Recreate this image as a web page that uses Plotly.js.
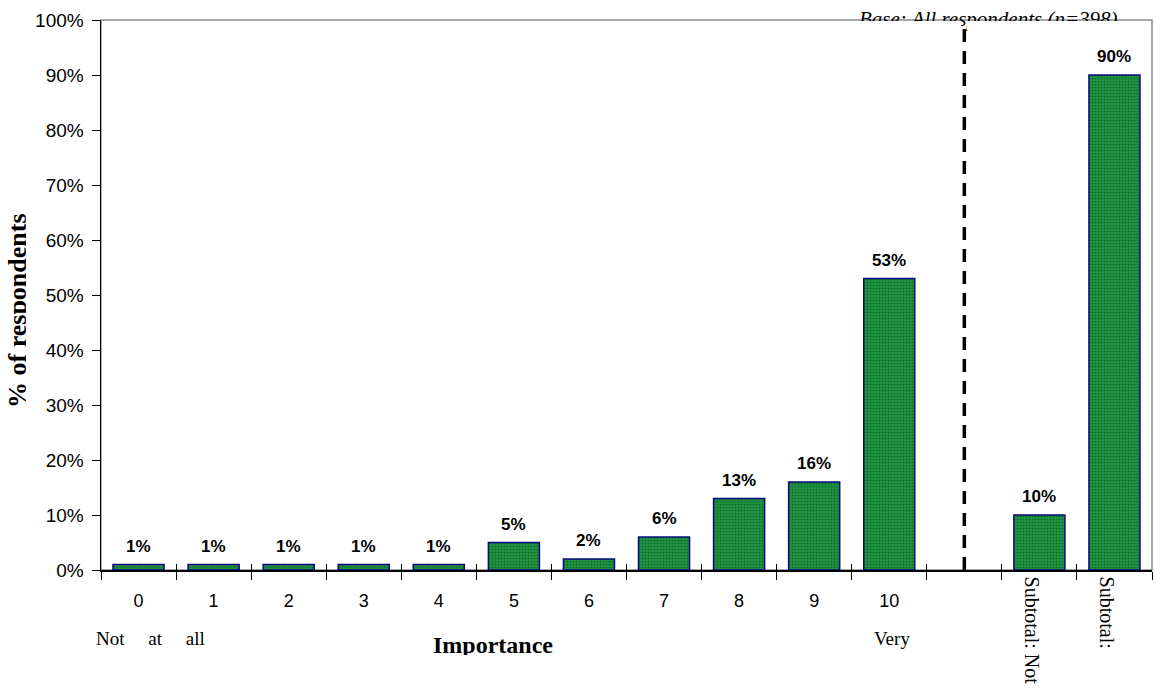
<!DOCTYPE html>
<html>
<head>
<meta charset="utf-8">
<script src="https://cdn.plot.ly/plotly-3.0.1.min.js"></script>
<style>
  html, body { margin: 0; padding: 0; background: #ffffff; }
  #chart { width: 1155px; height: 691px; }
</style>
</head>
<body>
<div id="chart"></div>
<script>
// Importance rating distribution (0-10) plus the two subtotals
const categories = ['0', '1', '2', '3', '4', '5', '6', '7', '8', '9', '10', ' ', 'Subtotal: Not', 'Subtotal:'];
const tickLabels = ['0', '1', '2', '3', '4', '5', '6', '7', '8', '9', '10', '', '', ''];
const shares = [1, 1, 1, 1, 1, 5, 2, 6, 13, 16, 53, null, 10, 90];
const subtotalLabels = ['Subtotal: Not', 'Subtotal:'];
const baseNote = 'Base: All respondents (n=398)';

const serif = 'Liberation Serif, Times New Roman, serif';
const sans = 'Liberation Sans, Arial, sans-serif';

const fractions = shares.map(v => (v === null ? null : v / 100));

const bars = {
  type: 'bar',
  x: categories,
  y: fractions,
  width: 0.68,
  marker: {
    color: '#1f9140',
    line: { color: '#0a0a80', width: 1.5 },
    pattern: { shape: '.', fgcolor: '#0c6a28', bgcolor: '#1f9140', size: 3, solidity: 0.25 }
  },
  hoverinfo: 'skip',
  showlegend: false
};

// invisible companion trace so the overlay axis carries the upward tick marks
const tickOverlay = {
  type: 'bar',
  x: categories,
  y: categories.map(() => null),
  xaxis: 'x2',
  hoverinfo: 'skip',
  showlegend: false
};

// value labels above each bar, taken from the same values
const valueNotes = [];
shares.forEach((v, i) => {
  if (v === null) return;
  valueNotes.push({
    x: categories[i], y: v / 100, xref: 'x', yref: 'y',
    text: '<b>' + v + '%</b>', showarrow: false,
    yanchor: 'bottom', yshift: 7,
    font: { family: sans, size: 17, color: '#000000' }
  });
});

// rotated labels under the subtotal bars
const subtotalNotes = subtotalLabels.map(lbl => ({
  x: lbl, y: 0, xref: 'x', yref: 'paper',
  text: lbl, textangle: 90, showarrow: false,
  xanchor: 'center', yanchor: 'top', xshift: -7, yshift: -5,
  font: { family: serif, size: 20, color: '#000000' }
}));

const whiteBox = (x, y, w, h) => ({
  x: x, y: y, xref: 'paper', yref: 'paper',
  xanchor: 'left', yanchor: 'top',
  text: ' ', showarrow: false, width: w, height: h,
  bgcolor: '#ffffff', borderpad: 0, borderwidth: 0
});

const pxX = px => (px - 101) / 1051;
const pxY = py => (570 - py) / 550;

const annotations = valueNotes.concat(subtotalNotes, [
  {
    x: pxX(988), y: 1, xref: 'paper', yref: 'paper',
    text: '<i>' + baseNote + '</i>', showarrow: false,
    xanchor: 'center', yanchor: 'middle', yshift: 1,
    font: { family: serif, size: 21, color: '#000000' }
  },
  // the note sits behind the plot frame: hide its lower half
  whiteBox(pxX(845), pxY(21), 116, 16),
  whiteBox(pxX(967), pxY(21), 175, 16),
  {
    x: pxX(150), y: pxY(638), xref: 'paper', yref: 'paper',
    text: 'Not\u00a0\u00a0\u00a0\u00a0\u00a0at\u00a0\u00a0\u00a0\u00a0\u00a0all', showarrow: false,
    xanchor: 'center', yanchor: 'middle',
    font: { family: serif, size: 19, color: '#000000' }
  },
  {
    x: '10', y: pxY(638), xref: 'x', yref: 'paper',
    text: 'Very', showarrow: false,
    xanchor: 'center', yanchor: 'middle', xshift: 3,
    font: { family: serif, size: 19, color: '#000000' }
  },
  {
    x: pxX(493), y: pxY(645), xref: 'paper', yref: 'paper',
    text: '<b>Importance</b>', showarrow: false,
    xanchor: 'center', yanchor: 'middle',
    font: { family: serif, size: 24, color: '#000000' }
  },
  whiteBox(pxX(420), pxY(655), 160, 18),
  {
    x: pxX(17), y: pxY(311), xref: 'paper', yref: 'paper',
    text: '<b>% of respondents</b>', textangle: -90, showarrow: false,
    xanchor: 'center', yanchor: 'middle',
    font: { family: serif, size: 26, color: '#000000' }
  },
  whiteBox(pxX(26), pxY(195), 9, 240)
]);

const layout = {
  width: 1155,
  height: 691,
  margin: { l: 101, r: 3, t: 20, b: 121, pad: 0 },
  paper_bgcolor: '#ffffff',
  plot_bgcolor: '#ffffff',
  bargap: 0.32,
  xaxis: {
    type: 'category',
    categoryorder: 'array',
    categoryarray: categories,
    range: [-0.5, categories.length - 0.5],
    tickmode: 'array',
    tickvals: categories,
    ticktext: tickLabels,
    tickson: 'boundaries',
    ticks: 'outside',
    ticklen: 8,
    tickwidth: 1,
    tickcolor: '#000000',
    ticklabelstandoff: 14,
    showline: true,
    linecolor: '#000000',
    linewidth: 1.5,
    showgrid: false,
    zeroline: false,
    fixedrange: true,
    tickfont: { family: sans, size: 18, color: '#000000' }
  },
  xaxis2: {
    type: 'category',
    overlaying: 'x',
    anchor: 'y',
    side: 'bottom',
    categoryorder: 'array',
    categoryarray: categories,
    range: [-0.5, categories.length - 0.5],
    tickson: 'boundaries',
    ticks: 'inside',
    ticklen: 6,
    tickwidth: 1,
    tickcolor: '#000000',
    showticklabels: false,
    showline: false,
    showgrid: false,
    zeroline: false,
    fixedrange: true
  },
  yaxis: {
    range: [0, 1],
    tickmode: 'linear',
    tick0: 0,
    dtick: 0.1,
    tickformat: '.0%',
    ticks: 'outside',
    ticklen: 8,
    tickwidth: 1,
    tickcolor: '#000000',
    ticklabelstandoff: 4,
    showline: true,
    linecolor: '#000000',
    linewidth: 1.5,
    showgrid: false,
    zeroline: false,
    fixedrange: true,
    tickfont: { family: sans, size: 19, color: '#000000' }
  },
  shapes: [
    // grey plot frame (left and bottom edges are covered by the axis lines)
    {
      type: 'rect', xref: 'paper', yref: 'paper',
      x0: 0, x1: 1, y0: 0, y1: 1,
      line: { color: '#8c8c8c', width: 1.5 },
      layer: 'below'
    },
    // dashed divider between the scale and the subtotals
    {
      type: 'line', xref: 'x', yref: 'paper',
      x0: ' ', x1: ' ', y0: 0, y1: 1,
      line: { color: '#000000', width: 3.5, dash: '13px,9px' },
      layer: 'above'
    }
  ],
  annotations: annotations,
  showlegend: false
};

Plotly.newPlot('chart', [bars, tickOverlay], layout, { displayModeBar: false, staticPlot: true });
</script>
</body>
</html>
